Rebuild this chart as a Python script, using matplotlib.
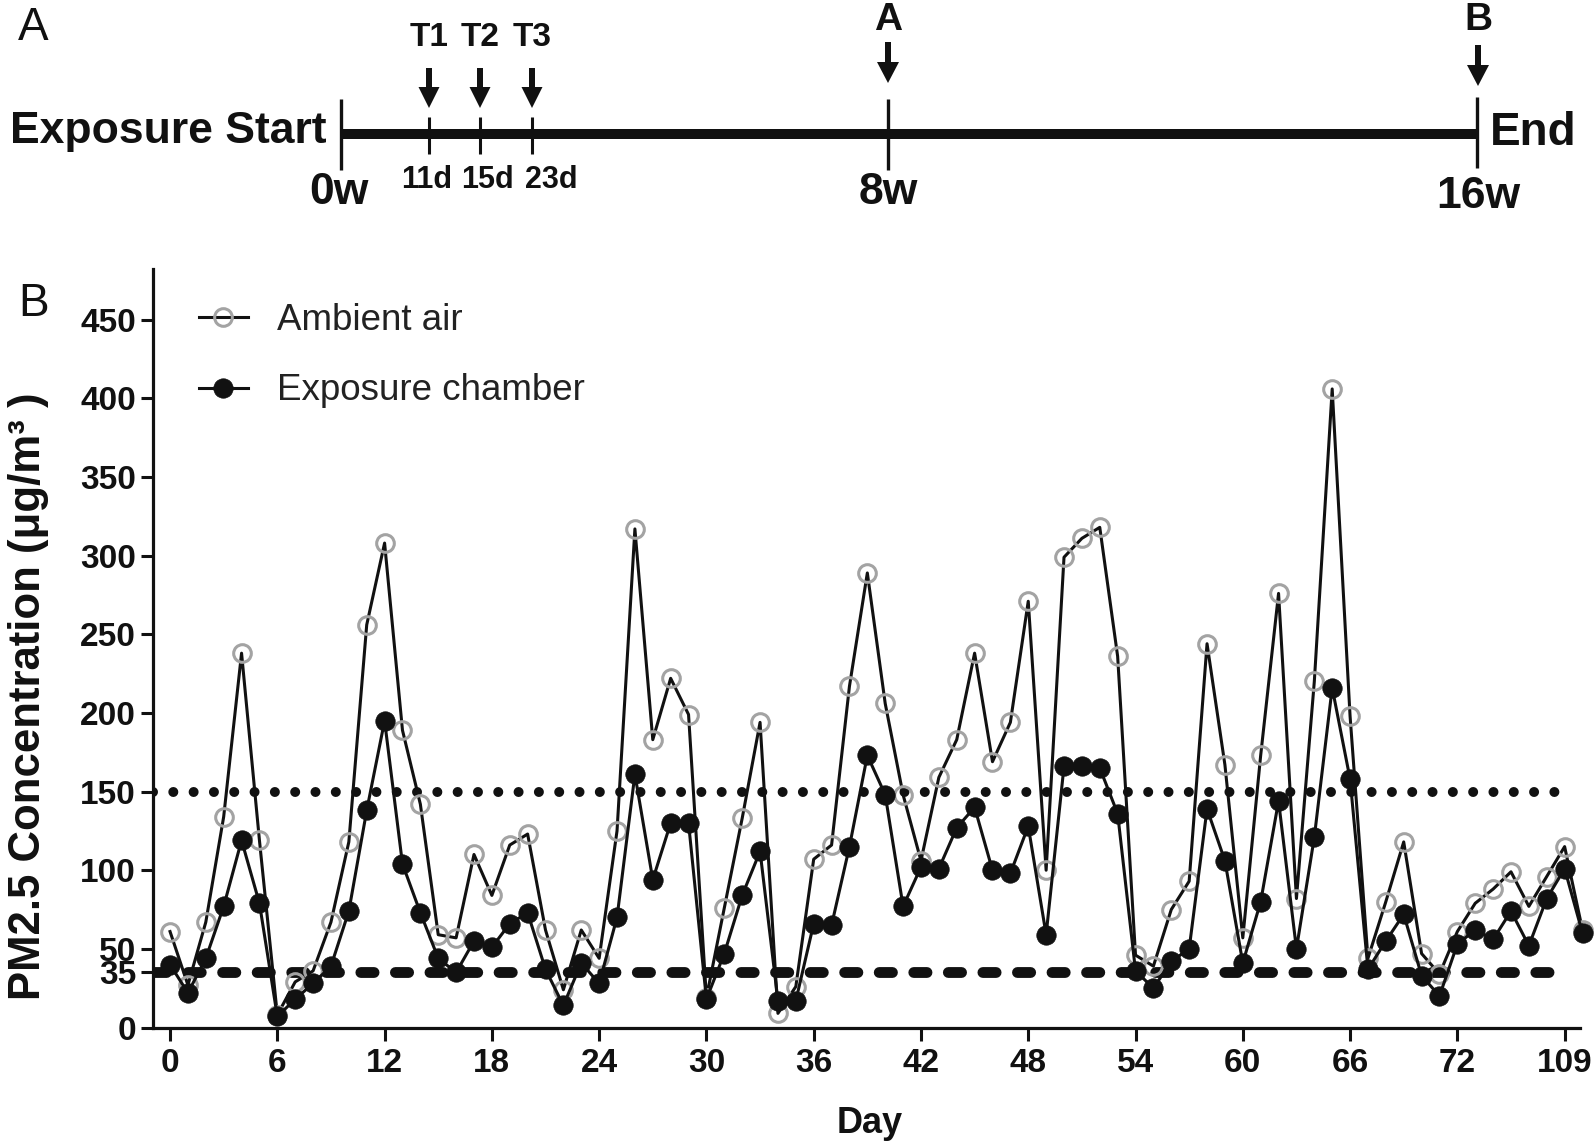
import matplotlib
matplotlib.use("Agg")
import matplotlib.pyplot as plt
from matplotlib.patches import FancyArrow

plt.rcParams['font.family'] = ['Liberation Sans', 'DejaVu Sans']

# ---- data ----
days = list(range(80))
xtick_pos = [0, 6, 12, 18, 24, 30, 36, 42, 48, 54, 60, 66, 72, 78]
xtick_labels = ["0", "6", "12", "18", "24", "30", "36", "42", "48", "54",
                "60", "66", "72", "109"]
ytick_pos = [0, 35, 50, 100, 150, 200, 250, 300, 350, 400, 450]

ambient = [61, 27, 67, 134, 238, 119, 8, 29, 36, 67,
           118, 256, 308, 189, 142, 59, 57, 110, 84, 116,
           123, 62, 24, 62, 44, 125, 317, 183, 222, 199,
           19, 76, 133, 194, 9, 26, 107, 116, 217, 289,
           206, 148, 106, 159, 183, 238, 169, 194, 271, 100,
           299, 311, 318, 236, 46, 39, 75, 93, 244, 167,
           57, 173, 276, 82, 220, 406, 198, 44, 80, 118,
           47, 34, 61, 79, 88, 99, 77, 96, 115, 62]
chamber = [40, 22, 44, 77, 119, 79, 7, 18, 28, 39,
           74, 138, 195, 104, 73, 44, 35, 55, 51, 66,
           73, 37, 14, 41, 28, 70, 161, 94, 130, 130,
           18, 47, 84, 112, 17, 17, 66, 65, 115, 173,
           148, 77, 102, 101, 127, 140, 100, 98, 128, 59,
           166, 166, 165, 136, 36, 25, 42, 50, 139, 106,
           41, 80, 144, 50, 121, 216, 158, 37, 55, 72,
           33, 20, 53, 62, 56, 74, 52, 82, 101, 60]
limit_daily = 150   # dotted
limit_annual = 35   # dashed

timepoints = ["T1", "T2", "T3"]
timepoint_days = ["11d", "15d", "23d"]
week_labels = ["0w", "8w", "16w"]
sample_labels = ["A", "B"]

W, H = 1594, 1144
fig = plt.figure(figsize=(W / 100, H / 100), dpi=100)

# ---- panel A: timeline (pixel coordinates) ----
axa = fig.add_axes([0, 1 - 225 / H, 1, 225 / H])
axa.set_xlim(0, W)
axa.set_ylim(225, 0)
axa.axis('off')
k = '#111111'
line_y = 134
axa.plot([341, 1477], [line_y, line_y], color=k, lw=7.2, solid_capstyle='butt')
for x, (y0, y1) in zip([341, 888, 1477], [(99, 170), (99, 170), (97, 168)]):
    axa.plot([x, x], [y0, y1], color=k, lw=2.4, solid_capstyle='butt')
t_x = [429, 480, 532]
day_x = [427, 488, 551]
for x, dx, lab, dlab in zip(t_x, day_x, timepoints, timepoint_days):
    axa.plot([x, x], [117, 154], color=k, lw=2.2, solid_capstyle='butt')
    axa.add_patch(FancyArrow(x, 68, 0, 40, width=6, head_width=21, head_length=21,
                             length_includes_head=True, color=k, lw=0))
    axa.text(x, 37, lab, ha='center', va='center', fontsize=24, fontweight='bold', color=k)
    axa.text(dx, 180, dlab, ha='center', va='center', fontsize=22, fontweight='bold', color=k)
for x, top, lab in zip([888, 1478], [42, 45], sample_labels):
    axa.add_patch(FancyArrow(x, top, 0, 41, width=6, head_width=22, head_length=21,
                             length_includes_head=True, color=k, lw=0))
    axa.text(x, 20, lab, ha='center', va='center', fontsize=28, fontweight='bold', color=k)
for x, y, lab in zip([339, 888, 1478], [192, 193, 197], week_labels):
    axa.text(x, y, lab, ha='center', va='center', fontsize=32, fontweight='bold', color=k)
axa.text(327, 132, "Exposure Start", ha='right', va='center', fontsize=32,
         fontweight='bold', color=k)
axa.text(1490, 133, "End", ha='left', va='center', fontsize=33, fontweight='bold', color=k)
axa.text(18, 28, "A", ha='left', va='center', fontsize=33, color=k)

# ---- panel B: PM2.5 time series ----
left, right = 152.7, 1580
bottom, top = 1027.5, 269.4
ax = fig.add_axes([left / W, (H - bottom) / H, (right - left) / W, (bottom - top) / H])
ax.set_xlim(-0.97, 78.86)
ax.set_ylim(0, 482)

ax.plot([-0.97, 77.7], [limit_daily, limit_daily], color=k, lw=7.2,
        linestyle=(0, (0.001, 2.03)), dash_capstyle='round', zorder=1)
ax.plot([-0.97, 77.8], [limit_annual, limit_annual], color=k, lw=7.8,
        linestyle=(0, (1.22, 1.97)), dash_capstyle='round', zorder=1)

ax.plot(days, ambient, color=k, lw=2.2, marker='o', ms=12.7, mfc='none',
        mec='#a3a3a3', mew=2.2, label='Ambient air', clip_on=False, zorder=3)
ax.plot(days, chamber, color=k, lw=2.2, marker='o', ms=14, mfc=k, mec=k,
        mew=0.5, label='Exposure chamber', clip_on=False, zorder=4)

for s in ['top', 'right']:
    ax.spines[s].set_visible(False)
for s in ['left', 'bottom']:
    ax.spines[s].set_linewidth(2.3)
    ax.spines[s].set_color(k)

ax.set_xticks(xtick_pos)
ax.set_xticklabels(xtick_labels)
ax.set_yticks(ytick_pos)
ax.set_yticklabels([str(v) for v in ytick_pos])
ax.tick_params(axis='both', direction='out', length=9, width=2.2, color=k,
               labelsize=24, labelcolor=k)
ax.tick_params(axis='x', pad=6)
ax.tick_params(axis='y', pad=3)
for lab in ax.get_xticklabels() + ax.get_yticklabels():
    lab.set_fontweight('bold')

ax.set_xlabel("Day", fontsize=26, fontweight='bold', color=k)
ax.xaxis.set_label_coords(0.502, -0.104)
ax.set_ylabel("PM2.5 Concentration (μg/m³ )", fontsize=31.5, fontweight='bold', color=k)
ax.yaxis.set_label_coords(-0.0725, 0.437)

leg = ax.legend(loc='upper left', bbox_to_anchor=(0.0324, 0.956), frameon=False,
                fontsize=26.5, handlelength=1.33, handletextpad=0.8, labelspacing=0.97,
                borderpad=0, borderaxespad=0)
for t in leg.get_texts():
    t.set_color('#222222')

fig.text(18 / W, 1 - 304 / H, "B", ha='left', va='center', fontsize=33, color=k)

fig.savefig("out.png", dpi=100)
